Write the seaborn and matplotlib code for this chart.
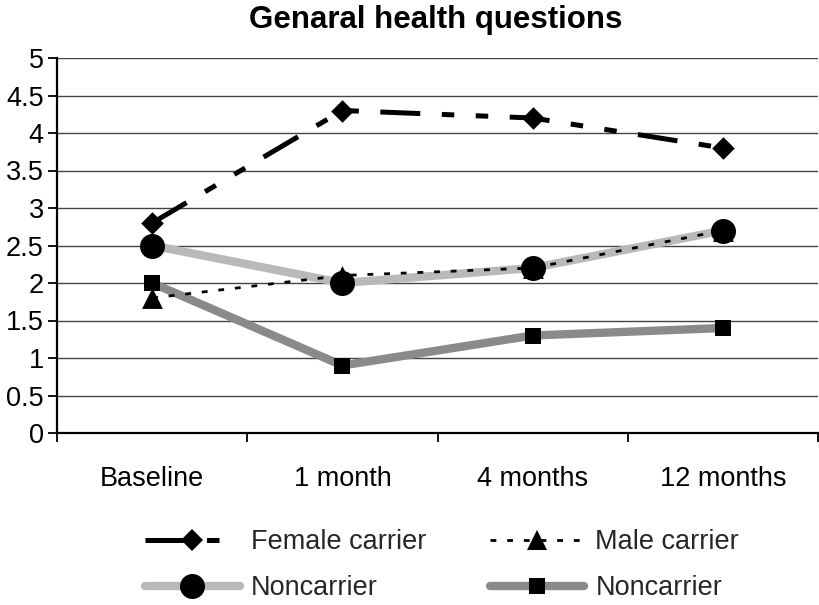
import matplotlib
matplotlib.use("Agg")
import matplotlib.pyplot as plt
from matplotlib.lines import Line2D
import seaborn as sns
import pandas as pd

# ---- data ----
categories = ["Baseline", "1 month", "4 months", "12 months"]
female_carrier = [2.8, 4.3, 4.2, 3.8]
male_carrier = [1.8, 2.1, 2.2, 2.7]
noncarrier_light = [2.5, 2.0, 2.2, 2.7]
noncarrier_dark = [2.0, 0.9, 1.3, 1.4]
y_ticks = [0, 0.5, 1, 1.5, 2, 2.5, 3, 3.5, 4, 4.5, 5]
y_tick_labels = ["0", "0.5", "1", "1.5", "2", "2.5", "3", "3.5", "4", "4.5", "5"]
legend_labels = ["Female carrier", "Male carrier", "Noncarrier", "Noncarrier"]
title = "Genaral health questions"

sns.set_theme(style="white")
plt.rcParams["font.family"] = ["Liberation Sans", "DejaVu Sans"]

W, H = 819, 605
fig = plt.figure(figsize=(W / 100, H / 100), dpi=100)
ax = fig.add_axes([57 / W, (H - 433) / H, (818 - 57) / W, (433 - 58) / H])

LIGHT = "#b9b9b9"
DARK = "#8a8a8a"
fem_ls = (0, (8.0, 4.3, 2.5, 4.3, 2.5, 4.3))
male_ls = (0, (2.1, 3.9))

# lines
sns.lineplot(x=categories, y=noncarrier_light, ax=ax, color=LIGHT, lw=6, sort=False, zorder=2)
sns.lineplot(x=categories, y=noncarrier_dark, ax=ax, color=DARK, lw=6, sort=False, zorder=2.1)
sns.lineplot(x=categories, y=male_carrier, ax=ax, color="black", lw=2.0, sort=False,
             linestyle=male_ls, zorder=2.5)
sns.lineplot(x=categories, y=female_carrier, ax=ax, color="black", lw=3.6, sort=False,
             linestyle=fem_ls, zorder=3)

# markers
sns.scatterplot(x=categories, y=male_carrier, ax=ax, marker="^", s=15 ** 2, color="black",
                linewidth=0, zorder=4)
sns.scatterplot(x=categories, y=noncarrier_light, ax=ax, marker="o", s=18 ** 2, color="black",
                linewidth=0, zorder=5)
sns.scatterplot(x=categories, y=noncarrier_dark, ax=ax, marker="s", s=12 ** 2, color="black",
                linewidth=0, zorder=5)
sns.scatterplot(x=categories, y=female_carrier, ax=ax, marker="D", s=11.5 ** 2, color="black",
                linewidth=0, zorder=6)

# axes styling
ax.set_xlim(-0.5, 3.5)
ax.set_ylim(0, 5)
ax.set_yticks(y_ticks)
ax.set_yticklabels(y_tick_labels)
ax.set_xticks(range(len(categories)))
ax.set_xticklabels(categories)
ax.set_xticks([-0.5, 0.5, 1.5, 2.5, 3.5], minor=True)
ax.tick_params(axis="x", which="major", length=0, pad=24, labelsize=19.5, colors="black")
ax.tick_params(axis="x", which="minor", length=6.5, width=1.3, direction="out", color="black", bottom=True)
ax.tick_params(axis="y", which="major", length=6.5, width=1.3, direction="out", pad=3,
               labelsize=19.5, color="black", left=True, labelcolor="black")
ax.yaxis.grid(True, color="#444444", lw=1.0)
ax.set_axisbelow(True)
for s in ["top", "right"]:
    ax.spines[s].set_visible(False)
for s in ["left", "bottom"]:
    ax.spines[s].set_color("black")
    ax.spines[s].set_linewidth(1.6)
ax.set_xlabel("")
ax.set_ylabel("")

fig.text(436 / W, 1 - 20 / H, title, ha="center", va="center", fontsize=22.5,
         fontweight="bold", color="black")

handles = [
    Line2D([], [], color="black", lw=3.6, linestyle=fem_ls, marker="D", markersize=11.5,
           markeredgewidth=0, markerfacecolor="black"),
    Line2D([], [], color=LIGHT, lw=6, marker="o", markersize=18, markeredgewidth=0,
           markerfacecolor="black"),
    Line2D([], [], color="black", lw=2.0, linestyle=male_ls, marker="^", markersize=15,
           markeredgewidth=0, markerfacecolor="black"),
    Line2D([], [], color=DARK, lw=6, marker="s", markersize=12, markeredgewidth=0,
           markerfacecolor="black"),
]
labels = [legend_labels[0], legend_labels[2], legend_labels[1], legend_labels[3]]
fig.legend(handles, labels, loc="upper left", bbox_to_anchor=(145 / W, 1 - 529 / H),
           ncol=2, frameon=False, fontsize=19.5, handlelength=3.5, handletextpad=0.4,
           columnspacing=2.35, labelspacing=0.75, borderpad=0, borderaxespad=0, numpoints=1)

fig.savefig("out.png", dpi=100)
